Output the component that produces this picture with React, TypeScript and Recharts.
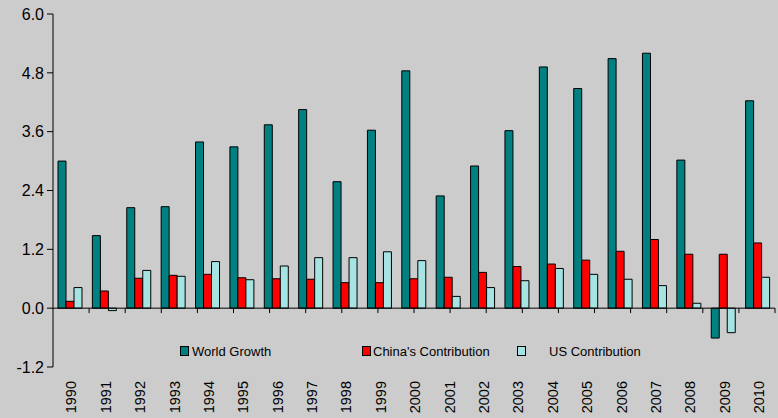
import React from 'react';
import { BarChart, Bar, XAxis, YAxis, ReferenceLine } from 'recharts';

const years = ['1990','1991','1992','1993','1994','1995','1996','1997','1998','1999','2000','2001','2002','2003','2004','2005','2006','2007','2008','2009','2010'];
const worldGrowth = [3.0,1.48,2.05,2.07,3.39,3.29,3.74,4.05,2.58,3.63,4.84,2.29,2.9,3.62,4.92,4.48,5.09,5.2,3.02,-0.61,4.23];
const chinaContribution = [0.14,0.35,0.61,0.67,0.69,0.62,0.6,0.59,0.52,0.52,0.6,0.63,0.73,0.85,0.9,0.98,1.16,1.4,1.1,1.1,1.33];
const usContribution = [0.42,-0.05,0.77,0.65,0.95,0.58,0.86,1.03,1.03,1.15,0.97,0.24,0.42,0.56,0.81,0.69,0.59,0.46,0.1,-0.5,0.63];
const yTicks = [-1.2,0,1.2,2.4,3.6,4.8,6.0];
const seriesNames = ['World Growth', "China's Contribution", 'US Contribution'];
const seriesColors = ['#008080', '#ff0000', '#a6e3e3'];

const data = years.map((y, i) => ({
  year: y,
  world: worldGrowth[i],
  china: chinaContribution[i],
  us: usContribution[i],
}));

const boundaries = years.map((_, i) => i + 1);

const FONT = '"Liberation Sans", Arial, sans-serif';

const XTick = (props: any) => {
  const { x, payload } = props;
  return (
    <g transform={`translate(${x + 1},381)`}>
      <text transform="rotate(-90)" x={0} y={0} dy="0.36em" textAnchor="end" fontSize={14.5} fontFamily={FONT} fill="#000">
        {payload.value}
      </text>
    </g>
  );
};

const legendPos = [180, 362, 517];
const legendTextPos = [192, 373, 549];

export default function App() {
  return (
    <div style={{ position: 'absolute', left: 0, top: 0, width: 778, height: 418, background: '#cccccc', fontFamily: FONT }}>
      <BarChart width={778} height={418} data={data} margin={{ top: 14, right: 3, left: 0, bottom: 0 }} barSize={8} barGap={0}>
        <XAxis dataKey="year" height={51} axisLine={false} tickLine={false} tick={<XTick />} interval={0} />
        <XAxis xAxisId="num" type="number" domain={[0, 21]} hide />
        <YAxis
          width={53}
          domain={[-1.2, 6]}
          ticks={yTicks}
          interval={0}
          tickFormatter={(v: number) => v.toFixed(1)}
          axisLine={{ stroke: '#000' }}
          tickLine={{ stroke: '#000' }}
          tickSize={6}
          tickMargin={3}
          tick={{ fill: '#000', fontSize: 16, fontFamily: FONT }}
          allowDataOverflow
        />
        <ReferenceLine y={0} stroke="#000" />
        {boundaries.map((b) => (
          <ReferenceLine key={b} xAxisId="num" segment={[{ x: b, y: 0 }, { x: b, y: -0.1 }]} stroke="#000" />
        ))}
        <Bar dataKey="world" fill={seriesColors[0]} stroke="#000" strokeWidth={1} isAnimationActive={false} />
        <Bar dataKey="china" fill={seriesColors[1]} stroke="#000" strokeWidth={1} isAnimationActive={false} />
        <Bar dataKey="us" fill={seriesColors[2]} stroke="#000" strokeWidth={1} isAnimationActive={false} />
      </BarChart>
      <svg width={778} height={418} style={{ position: 'absolute', left: 0, top: 0, pointerEvents: 'none' }}>
        {seriesNames.map((n, i) => (
          <g key={n}>
            <rect x={legendPos[i] + 0.5} y={346.5} width={8} height={9} fill={seriesColors[i]} stroke="#000" />
            <text x={legendTextPos[i]} y={351} dy="0.36em" fontSize={13} fontFamily={FONT} fill="#000">{n}</text>
          </g>
        ))}
      </svg>
    </div>
  );
}
